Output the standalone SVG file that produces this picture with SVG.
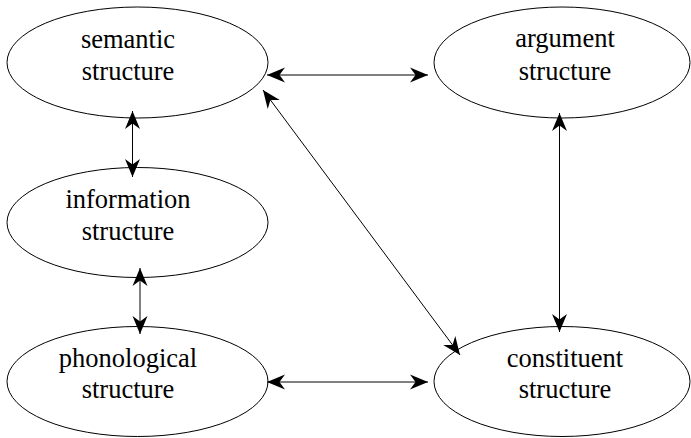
<svg xmlns="http://www.w3.org/2000/svg" width="691" height="438" viewBox="0 0 691 438">
<style>
.n{fill:#fff;stroke:#000;stroke-width:1}
.t{font-family:"Liberation Serif","Times New Roman",serif;font-size:26.5px;fill:#000;text-anchor:middle}
.c{stroke:#000;stroke-width:1;fill:none;marker-start:url(#ah);marker-end:url(#ah)}
</style>
<defs>
<marker id="ah" markerUnits="userSpaceOnUse" viewBox="-20 -10 21 20" refX="0" refY="0" markerWidth="21" markerHeight="20" orient="auto-start-reverse">
<path d="M0,0 L-18,-7.5 L-12.5,0 L-18,7.5 z" fill="#000"/>
</marker>
</defs>
<rect width="691" height="438" fill="#fff"/>
<g id="semantic">
<ellipse class="n" cx="137.5" cy="62.5" rx="130.5" ry="55.5"/>
<text class="t" x="128" y="48">semantic</text>
<text class="t" x="128" y="80">structure</text>
</g>
<g id="argument">
<ellipse class="n" cx="562" cy="62.5" rx="128" ry="55.5"/>
<text class="t" x="565" y="47">argument</text>
<text class="t" x="565" y="80">structure</text>
</g>
<g id="information">
<ellipse class="n" cx="137.5" cy="222.5" rx="130.5" ry="55"/>
<text class="t" x="128" y="208">information</text>
<text class="t" x="128" y="240">structure</text>
</g>
<g id="phonological">
<ellipse class="n" cx="137.5" cy="381.5" rx="130.5" ry="55"/>
<text class="t" x="128" y="367">phonological</text>
<text class="t" x="128" y="398">structure</text>
</g>
<g id="constituent">
<ellipse class="n" cx="562" cy="381.5" rx="128" ry="55"/>
<text class="t" x="565" y="367">constituent</text>
<text class="t" x="565" y="398">structure</text>
</g>
<g id="connectors">
<line class="c" x1="267" y1="75" x2="428" y2="75"/>
<line class="c" x1="132.5" y1="111" x2="132.5" y2="177"/>
<line class="c" x1="140" y1="268" x2="140" y2="334"/>
<line class="c" x1="267" y1="382" x2="428" y2="382"/>
<line class="c" x1="559.5" y1="113" x2="559.5" y2="332"/>
<line class="c" x1="263" y1="90" x2="460" y2="355"/>
</g>
</svg>
